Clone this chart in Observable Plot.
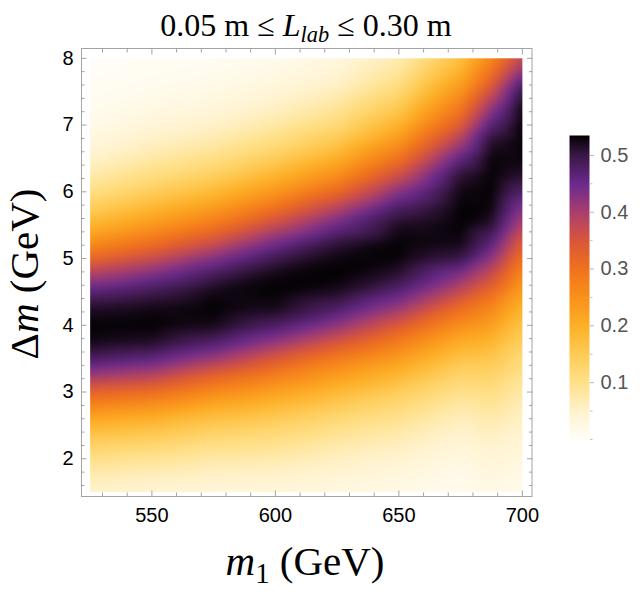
<!DOCTYPE html>
<html>
<head>
<meta charset="utf-8">
<script src="https://cdn.jsdelivr.net/npm/d3@7"></script>
<script src="https://cdn.jsdelivr.net/npm/@observablehq/plot@0.6"></script>
<style>
  body { margin: 0; background: #fff; }
  #chart { position: relative; width: 640px; height: 596px; overflow: hidden; font-family: "Liberation Sans", Arial, sans-serif; }
  #chart svg { position: absolute; overflow: visible; }
  .tex { position: absolute; font-family: "Liberation Serif", "Times New Roman", serif; white-space: nowrap; color: #000; line-height: 1; z-index: 2; }
  .tex .sub { font-size: 0.7em; position: relative; top: 0.28em; }
</style>
</head>
<body>
<div id="chart">
  <div class="tex" id="title" style="left:0; width:612px; top:9px; text-align:center; font-size:32px;">0.05 m ≤ <i>L</i><span class="sub"><i>lab</i></span> ≤ 0.30 m</div>
  <div class="tex" id="xtitle" style="left:0; width:610px; top:541px; text-align:center; font-size:41px;"><i>m</i><span class="sub">1</span> (GeV)</div>
  <div class="tex" id="ytitle" style="left:24px; top:274px; font-size:41px; transform: translate(-50%, -50%) rotate(-90deg);">Δ<i>m</i> (GeV)</div>
</div>
<script>
// Grid of sampled values: columns in m1 (GeV), rows in Δm (GeV)
const m1Values = [525, 550, 575, 600, 625, 650, 675, 687.5, 700];
const dmValues = [1.5, 1.75, 2, 2.25, 2.5, 2.75, 3, 3.25, 3.5, 3.75, 4, 4.25, 4.5, 4.75,
                  5, 5.25, 5.5, 5.75, 6, 6.25, 6.5, 6.75, 7, 7.25, 7.5, 7.75, 8];

// One column of values per m1 entry, ordered by dmValues
const col525 = [0.045,0.070,0.102,0.142,0.192,0.255,0.327,0.410,0.484,0.526,0.534,0.518,0.469,0.397,0.319,0.250,0.192,0.144,0.105,0.073,0.049,0.032,0.020,0.012,0.008,0.005,0.003];
const col550 = [0.040,0.062,0.092,0.131,0.178,0.236,0.308,0.388,0.463,0.518,0.534,0.527,0.493,0.438,0.368,0.299,0.239,0.188,0.144,0.107,0.078,0.055,0.037,0.025,0.016,0.010,0.007];
const col575 = [0.034,0.052,0.078,0.110,0.150,0.200,0.260,0.330,0.410,0.480,0.525,0.535,0.526,0.489,0.430,0.359,0.291,0.234,0.182,0.139,0.104,0.075,0.052,0.035,0.023,0.015,0.009];
const col600 = [0.033,0.049,0.072,0.100,0.134,0.174,0.224,0.280,0.346,0.418,0.482,0.524,0.534,0.528,0.494,0.438,0.371,0.302,0.241,0.190,0.145,0.109,0.079,0.056,0.038,0.025,0.016];
const col625 = [0.027,0.040,0.057,0.080,0.107,0.142,0.184,0.232,0.284,0.352,0.421,0.480,0.520,0.534,0.529,0.503,0.450,0.389,0.316,0.253,0.200,0.156,0.118,0.088,0.063,0.043,0.030];
const col650 = [0.021,0.031,0.045,0.063,0.086,0.113,0.145,0.186,0.232,0.283,0.343,0.410,0.466,0.509,0.531,0.533,0.520,0.484,0.427,0.362,0.299,0.243,0.194,0.154,0.120,0.091,0.066];
const col675 = [0.013,0.018,0.027,0.039,0.054,0.074,0.100,0.129,0.164,0.205,0.253,0.308,0.373,0.430,0.500,0.528,0.534,0.533,0.528,0.510,0.460,0.400,0.340,0.291,0.246,0.205,0.168];
const col687 = [0.021,0.030,0.039,0.051,0.068,0.086,0.106,0.130,0.158,0.190,0.227,0.265,0.313,0.367,0.420,0.470,0.510,0.530,0.534,0.534,0.532,0.515,0.470,0.420,0.362,0.310,0.265];
const col700 = [0.017,0.022,0.030,0.038,0.049,0.062,0.077,0.096,0.115,0.138,0.162,0.192,0.224,0.258,0.299,0.340,0.389,0.430,0.475,0.515,0.530,0.534,0.535,0.530,0.505,0.440,0.370];

// Axis ticks
const xMajorTicks = [550, 600, 650, 700];
const xMinorTicks = [530, 540, 560, 570, 580, 590, 610, 620, 630, 640, 660, 670, 680, 690];
const yMajorTicks = [2, 3, 4, 5, 6, 7, 8];
const yMinorTicks = [1.6, 1.8, 2.2, 2.4, 2.6, 2.8, 3.2, 3.4, 3.6, 3.8, 4.2, 4.4, 4.6, 4.8,
                     5.2, 5.4, 5.6, 5.8, 6.2, 6.4, 6.6, 6.8, 7.2, 7.4, 7.6, 7.8];
const barMajorTicks = [0.1, 0.2, 0.3, 0.4, 0.5];
const barMinorTicks = [0, 0.05, 0.15, 0.25, 0.35, 0.45];

// Colour ramp: cream → yellow → orange → red → purple → black
const colorStops = [0, 0.05, 0.1, 0.15, 0.2, 0.25, 0.3, 0.35, 0.4, 0.45, 0.5, 0.525, 0.535];
const colorRamp = ["#fffefa", "#fff2cc", "#ffe18a", "#fecb55", "#fdb027", "#f9911b", "#f1721d",
                   "#d9563a", "#a93f6e", "#6a2a8e", "#3a1846", "#140816", "#000000"];

const columns = [col525, col550, col575, col600, col625, col650, col675, col687, col700];
const grid = m1Values.flatMap((m1, i) => dmValues.map((dm, j) => ({m1, dm, v: columns[i][j]})));

const colorScale = {type: "linear", domain: colorStops, range: colorRamp, clamp: true};
const tickStroke = "#a3a3a3";
const plain = (d) => String(d);
const chart = document.getElementById("chart");

const main = Plot.plot({
  width: 545,
  height: 596,
  marginLeft: 81,
  marginRight: 13.5,
  marginTop: 48,
  marginBottom: 100,
  style: {fontFamily: "'Liberation Sans', Arial, sans-serif", fontSize: "20px", color: "#000"},
  x: {domain: [521.5, 703.9], label: null},
  y: {domain: [1.435, 8.147], label: null},
  color: colorScale,
  marks: [
    Plot.raster(grid, {x: "m1", y: "dm", fill: "v", interpolate: "barycentric",
                       x1: 525, x2: 700, y1: 1.5, y2: 8, blur: 4}),
    Plot.frame({stroke: tickStroke}),
    // inward major and minor ticks on all four sides
    Plot.axisX(xMajorTicks, {anchor: "bottom", tickSize: -5.5, stroke: tickStroke, tickFormat: () => "", label: null}),
    Plot.axisX(xMinorTicks, {anchor: "bottom", tickSize: -3.5, stroke: tickStroke, tickFormat: () => "", label: null}),
    Plot.axisX(xMajorTicks, {anchor: "top", tickSize: -5.5, stroke: tickStroke, tickFormat: () => "", label: null}),
    Plot.axisX(xMinorTicks, {anchor: "top", tickSize: -3.5, stroke: tickStroke, tickFormat: () => "", label: null}),
    Plot.axisY(yMajorTicks, {anchor: "left", tickSize: -5.5, stroke: tickStroke, tickFormat: () => "", label: null}),
    Plot.axisY(yMinorTicks, {anchor: "left", tickSize: -3.5, stroke: tickStroke, tickFormat: () => "", label: null}),
    Plot.axisY(yMajorTicks, {anchor: "right", tickSize: -5.5, stroke: tickStroke, tickFormat: () => "", label: null}),
    Plot.axisY(yMinorTicks, {anchor: "right", tickSize: -3.5, stroke: tickStroke, tickFormat: () => "", label: null}),
    // tick labels
    Plot.axisX(xMajorTicks, {anchor: "bottom", tickSize: 0, tickPadding: 11, fill: "#000", fontSize: 20, tickFormat: plain, label: null}),
    Plot.axisY(yMajorTicks, {anchor: "left", tickSize: 0, tickPadding: 8, fill: "#000", fontSize: 20, tickFormat: plain, label: null})
  ]
});
main.style.left = "0px";
main.style.top = "0px";
chart.appendChild(main);

// Vertical colour bar
const bar = Plot.plot({
  width: 80,
  height: 340,
  marginLeft: 9,
  marginRight: 51,
  marginTop: 15,
  marginBottom: 21,
  style: {fontFamily: "'Liberation Sans', Arial, sans-serif", fontSize: "20px"},
  x: {domain: [0, 1], axis: null},
  y: {domain: [0, 0.535], axis: null},
  color: colorScale,
  marks: [
    Plot.raster({fill: (x, y) => y, x1: 0, x2: 1, y1: 0, y2: 0.535}),
    Plot.axisY(barMinorTicks, {anchor: "right", tickSize: 2.5, stroke: "#c4c4c4", tickFormat: () => "", label: null}),
    Plot.axisY(barMajorTicks, {anchor: "right", tickSize: 4, stroke: "#b5b5b5", tickPadding: 7, fill: "#555", fontSize: 20, tickFormat: plain, label: null})
  ]
});
bar.style.left = "560px";
bar.style.top = "120px";
chart.appendChild(bar);
</script>
</body>
</html>
